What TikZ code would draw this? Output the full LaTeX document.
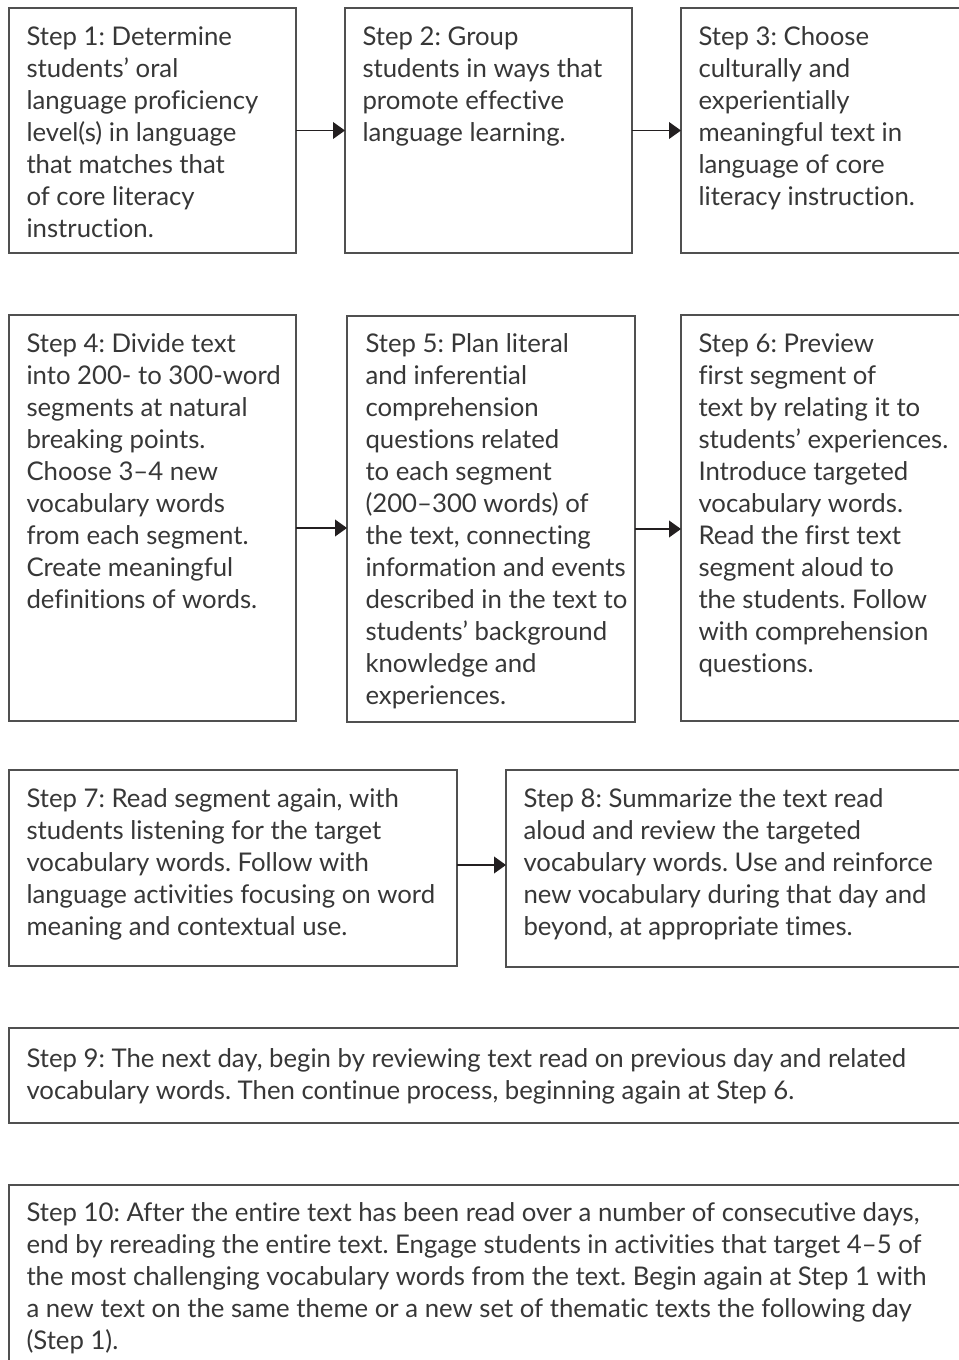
\documentclass[tikz,border=0pt]{standalone}
\usepackage{fontspec}
\setmainfont{Lato}[Ligatures={TeX,NoCommon}]
\usetikzlibrary{arrows.meta}
\frenchspacing

\definecolor{boxgray}{RGB}{80,80,80}
\definecolor{textgray}{RGB}{55,55,55}
\definecolor{arrowblack}{RGB}{35,31,32}

\tikzset{every picture/.style={line width=0.75pt}}
\tikzset{
	stepbox/.style={draw=boxgray, line width=1.3pt, rectangle, anchor=north west, inner sep=0pt, outer sep=0pt},
	steptext/.style={anchor=north west, align=left, inner sep=0pt, text=textgray, font=\fontsize{19.3}{24}\selectfont},
	flow/.style={draw=arrowblack, line width=1.3pt, -{Triangle[length=9pt, width=12.5pt]}}}

\begin{document}
\begin{tikzpicture}[x=0.75pt,y=0.75pt,yscale=-1,xscale=1]
	\clip (0,0) rectangle (959,1360);

	%Shape: Rectangle
	\node [stepbox, minimum width=215.25pt, minimum height=183.75pt] (s1) at (9,8) {};
	%Shape: Rectangle
	\node [stepbox, minimum width=215.25pt, minimum height=183.75pt] (s2) at (345,8) {};
	%Shape: Rectangle
	\node [stepbox, minimum width=215.25pt, minimum height=183.75pt] (s3) at (681,8) {};
	%Shape: Rectangle
	\node [stepbox, minimum width=215.25pt, minimum height=304.5pt] (s4) at (9,315) {};
	%Shape: Rectangle
	\node [stepbox, minimum width=216pt, minimum height=304.5pt] (s5) at (347,316) {};
	%Shape: Rectangle
	\node [stepbox, minimum width=215.25pt, minimum height=304.5pt] (s6) at (681,315) {};
	%Shape: Rectangle
	\node [stepbox, minimum width=336pt, minimum height=147pt] (s7) at (9,770) {};
	%Shape: Rectangle
	\node [stepbox, minimum width=360pt, minimum height=147.75pt] (s8) at (506,770) {};
	%Shape: Rectangle
	\node [stepbox, minimum width=735pt, minimum height=71.25pt] (s9) at (9,1028) {};
	%Shape: Rectangle
	\node [stepbox, minimum width=735pt, minimum height=187.5pt] (s10) at (9,1185) {};

	%Right Arrow
	\draw [flow] (s1.east) -- (s2.west);
	%Right Arrow
	\draw [flow] (s2.east) -- (s3.west);
	%Right Arrow
	\draw [flow] ([yshift=7.5pt]s4.east) -- ([yshift=7.5pt]s4.east -| s5.west);
	%Right Arrow
	\draw [flow] ([yshift=7.5pt]s5.east) -- ([yshift=7.5pt]s5.east -| s6.west);
	%Right Arrow
	\draw [flow] ([yshift=-2.25pt]s7.east) -- ([yshift=-2.25pt]s7.east -| s8.west);

	% Text Node
	\node [steptext] (t1) at (26,26) {Step 1: Determine\\students’ oral\\language proficiency\\level(s) in language\\that matches that\\of core literacy\\instruction.};
	% Text Node
	\node [steptext] (t2) at (362,26) {Step 2: Group\\students in ways that\\promote effective\\language learning.};
	% Text Node
	\node [steptext] (t3) at (698,26) {Step 3: Choose\\culturally and\\experientially\\meaningful text in\\language of core\\literacy instruction.};
	% Text Node
	\node [steptext] (t4) at (26,333) {Step 4: Divide text\\into 200- to 300-word\\segments at natural\\breaking points.\\Choose 3–4 new\\vocabulary words\\from each segment.\\Create meaningful\\definitions of words.};
	% Text Node
	\node [steptext] (t5) at (365,333) {Step 5: Plan literal\\and inferential\\comprehension\\questions related\\to each segment\\(200–300 words) of\\the text, connecting\\information and events\\described in the text to\\students’ background\\knowledge and\\experiences.};
	% Text Node
	\node [steptext] (t6) at (698,333) {Step 6: Preview\\first segment of\\text by relating it to\\students’ experiences.\\Introduce targeted\\vocabulary words.\\Read the first text\\segment aloud to\\the students. Follow\\with comprehension\\questions.};
	% Text Node
	\node [steptext] (t7) at (26,788) {Step 7: Read segment again, with\\students listening for the target\\vocabulary words. Follow with\\language activities focusing on word\\meaning and contextual use.};
	% Text Node
	\node [steptext] (t8) at (523,788) {Step 8: Summarize the text read\\aloud and review the targeted\\vocabulary words. Use and reinforce\\new vocabulary during that day and\\beyond, at appropriate times.};
	% Text Node
	\node [steptext] (t9) at (26,1048) {Step 9: The next day, begin by reviewing text read on previous day and related\\vocabulary words. Then continue process, beginning again at Step 6.};
	% Text Node
	\node [steptext] (t10) at (26,1202) {Step 10: After the entire text has been read over a number of consecutive days,\\end by rereading the entire text. Engage students in activities that target 4–5 of\\the most challenging vocabulary words from the text. Begin again at Step 1 with\\a new text on the same theme or a new set of thematic texts the following day\\(Step 1).};

\end{tikzpicture}
\end{document}
